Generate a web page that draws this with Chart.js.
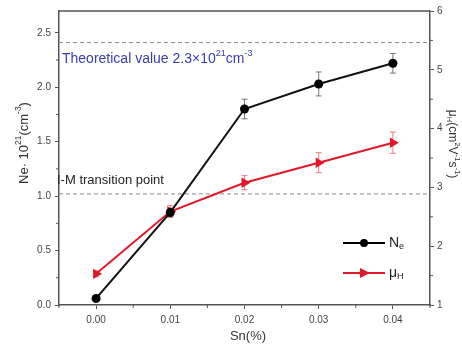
<!DOCTYPE html>
<html>
<head>
<meta charset="utf-8">
<title>Ne and mobility vs Sn</title>
<script src="https://cdn.jsdelivr.net/npm/chart.js@4.4.1/dist/chart.umd.min.js"></script>
<style>
  html, body { margin: 0; padding: 0; background: #fff; }
  #wrap { width: 462px; height: 347px; }
</style>
</head>
<body>
<div id="wrap"><canvas id="chart" width="462" height="347"></canvas></div>
<script>
// Data
const sn = [0.00, 0.01, 0.02, 0.03, 0.04];
const ne = [0.06, 0.85, 1.80, 2.03, 2.22];
const neErr = [0.02, 0.04, 0.09, 0.11, 0.09];
const mu = [1.53, 2.59, 3.08, 3.42, 3.76];
const muErr = [0.05, 0.10, 0.12, 0.17, 0.18];
const xTicks = [0.00, 0.01, 0.02, 0.03, 0.04];
const yTicks = [0.0, 0.5, 1.0, 1.5, 2.0, 2.5];
const y1Ticks = [1, 2, 3, 4, 5, 6];
const refLines = [2.41, 1.02]; // dashed lines, left axis units

const FONT = '"Liberation Sans", Arial, sans-serif';
const AXIS = '#555';
const RED = '#e0182a';

// draws text with sup and sub segments: parts = [[text, 'n'|'sup'|'sub'], ...]
function richText(ctx, parts, x, y, size) {
  let cx = x;
  parts.forEach(([t, kind]) => {
    const s = kind === 'n' ? size : size * 0.65;
    const dy = kind === 'sup' ? -size * 0.4 : kind === 'sub' ? size * 0.25 : 0;
    ctx.font = s + 'px ' + FONT;
    ctx.fillText(t, cx, y + dy);
    cx += ctx.measureText(t).width;
  });
  return cx - x;
}
function richWidth(ctx, parts, size) {
  let w = 0;
  parts.forEach(([t, kind]) => {
    ctx.font = (kind === 'n' ? size : size * 0.65) + 'px ' + FONT;
    w += ctx.measureText(t).width;
  });
  return w;
}

const extras = {
  id: 'extras',
  beforeDatasetsDraw(chart) {
    const { ctx, chartArea: a, scales } = chart;
    ctx.save();
    // dashed reference lines
    ctx.strokeStyle = '#8a8a8a';
    ctx.lineWidth = 1;
    ctx.setLineDash([4, 3]);
    refLines.forEach(v => {
      const y = scales.y.getPixelForValue(v);
      ctx.beginPath();
      ctx.moveTo(a.left, y);
      ctx.lineTo(a.right, y);
      ctx.stroke();
    });
    ctx.setLineDash([]);

    // error bars
    const bars = (vals, errs, sc, color) => {
      ctx.strokeStyle = color;
      ctx.lineWidth = 1;
      vals.forEach((v, i) => {
        const x = scales.x.getPixelForValue(sn[i]);
        const y0 = sc.getPixelForValue(v - errs[i]);
        const y1 = sc.getPixelForValue(v + errs[i]);
        ctx.beginPath();
        ctx.moveTo(x, y0); ctx.lineTo(x, y1);
        ctx.moveTo(x - 3, y0); ctx.lineTo(x + 3, y0);
        ctx.moveTo(x - 3, y1); ctx.lineTo(x + 3, y1);
        ctx.stroke();
      });
    };
    bars(ne, neErr, scales.y, '#777');
    bars(mu, muErr, scales.y1, '#e87a80');
    ctx.restore();
  },
  afterDraw(chart) {
    const { ctx, chartArea: a, scales } = chart;
    ctx.save();
    // frame top
    ctx.strokeStyle = AXIS;
    ctx.lineWidth = 1.5;
    ctx.beginPath();
    ctx.moveTo(a.left, a.top);
    ctx.lineTo(a.right, a.top);
    ctx.stroke();

    // minor ticks
    ctx.lineWidth = 1;
    ctx.beginPath();
    yTicks.forEach(t => {
      const v = t + 0.25;
      if (v > scales.y.max) return;
      const y = scales.y.getPixelForValue(v);
      ctx.moveTo(a.left, y); ctx.lineTo(a.left - 3, y);
    });
    y1Ticks.forEach(t => {
      const v = t + 0.5;
      if (v > scales.y1.max) return;
      const y = scales.y1.getPixelForValue(v);
      ctx.moveTo(a.right, y); ctx.lineTo(a.right + 3, y);
    });
    xTicks.forEach((t, i) => {
      [-0.005, 0.005].forEach(d => {
        if (i > 0 && d < 0) return;
        const x = scales.x.getPixelForValue(t + d);
        ctx.moveTo(x, a.bottom); ctx.lineTo(x, a.bottom + 3);
      });
    });
    ctx.stroke();

    // annotations
    ctx.textBaseline = 'middle';
    ctx.textAlign = 'left';
    ctx.fillStyle = '#3b3cb0';
    richText(ctx, [['Theoretical value 2.3×10', 'n'], ['21', 'sup'], ['cm', 'n'], ['-3', 'sup']], a.left + 3, 59, 14);
    ctx.fillStyle = '#222';
    richText(ctx, [['I-M transition point', 'n']], a.left - 2, 180, 13);

    // legend
    const lx0 = 343, lx1 = 385;
    const ly = [243, 273];
    ctx.lineWidth = 2;
    ctx.strokeStyle = '#000';
    ctx.beginPath(); ctx.moveTo(lx0, ly[0]); ctx.lineTo(lx1, ly[0]); ctx.stroke();
    ctx.fillStyle = '#000';
    ctx.beginPath(); ctx.arc((lx0 + lx1) / 2, ly[0], 4, 0, Math.PI * 2); ctx.fill();
    ctx.strokeStyle = RED;
    ctx.beginPath(); ctx.moveTo(lx0, ly[1]); ctx.lineTo(lx1, ly[1]); ctx.stroke();
    ctx.fillStyle = RED;
    const tx = (lx0 + lx1) / 2;
    ctx.beginPath(); ctx.moveTo(tx + 6, ly[1]); ctx.lineTo(tx - 4, ly[1] - 5); ctx.lineTo(tx - 4, ly[1] + 5); ctx.closePath(); ctx.fill();
    ctx.fillStyle = '#222';
    richText(ctx, [['N', 'n'], ['e', 'sub']], lx1 + 4, ly[0], 14);
    richText(ctx, [['μ', 'n'], ['H', 'sub']], lx1 + 4, ly[1], 14);

    // axis titles
    ctx.fillStyle = '#333';
    ctx.textAlign = 'left';
    richText(ctx, [['Sn(%)', 'n']], 248 - richWidth(ctx, [['Sn(%)', 'n']], 13) / 2, 336, 13);

    const leftT = [['Ne· 10', 'n'], ['21', 'sup'], ['(cm', 'n'], ['-3', 'sup'], [')', 'n']];
    ctx.save();
    ctx.translate(24, 143);
    ctx.rotate(-Math.PI / 2);
    richText(ctx, leftT, -richWidth(ctx, leftT, 13) / 2, 0, 13);
    ctx.restore();

    const rightT = [['μ', 'n'], ['H', 'sub'], ['(cm', 'n'], ['2', 'sup'], ['V', 'n'], ['-1', 'sup'], ['s', 'n'], ['-1', 'sup'], [')', 'n']];
    ctx.save();
    ctx.translate(452, 144);
    ctx.rotate(Math.PI / 2);
    richText(ctx, rightT, -richWidth(ctx, rightT, 12) / 2, 0, 12);
    ctx.restore();
    ctx.restore();
  }
};

const tickFont = { family: FONT, size: 10 };
const axisGrid = { drawOnChartArea: false, drawTicks: true, tickLength: 4, color: AXIS, lineWidth: 1 };
const axisBorder = { display: true, color: AXIS, width: 1.5 };

new Chart(document.getElementById('chart'), {
  type: 'line',
  data: {
    datasets: [
      {
        label: 'Ne',
        data: sn.map((x, i) => ({ x, y: ne[i] })),
        yAxisID: 'y',
        borderColor: '#111',
        backgroundColor: '#000',
        borderWidth: 2,
        pointStyle: 'circle',
        pointRadius: 4.5,
        pointBorderWidth: 0,
        tension: 0
      },
      {
        label: 'μH',
        data: sn.map((x, i) => ({ x, y: mu[i] })),
        yAxisID: 'y1',
        borderColor: RED,
        backgroundColor: RED,
        borderWidth: 2,
        pointStyle: 'triangle',
        rotation: 90,
        pointRadius: 6,
        pointBorderWidth: 0,
        tension: 0
      }
    ]
  },
  options: {
    responsive: false,
    animation: false,
    layout: { padding: { top: 11, left: 0, right: 0, bottom: 0 } },
    plugins: { legend: { display: false }, tooltip: { enabled: false } },
    scales: {
      x: {
        type: 'linear',
        min: -0.005,
        max: 0.045,
        afterBuildTicks: s => { s.ticks = xTicks.map(v => ({ value: v })); },
        afterFit: s => { s.height = 42; },
        ticks: { font: tickFont, color: '#444', padding: 5, callback: v => v.toFixed(2) },
        grid: axisGrid,
        border: axisBorder
      },
      y: {
        type: 'linear',
        position: 'left',
        min: 0,
        max: 2.7,
        afterBuildTicks: s => { s.ticks = yTicks.map(v => ({ value: v })); },
        afterFit: s => { s.width = 59; },
        ticks: { font: tickFont, color: '#444', padding: 4, callback: v => v.toFixed(1) },
        grid: axisGrid,
        border: axisBorder
      },
      y1: {
        type: 'linear',
        position: 'right',
        min: 1,
        max: 6,
        afterBuildTicks: s => { s.ticks = y1Ticks.map(v => ({ value: v })); },
        afterFit: s => { s.width = 32; },
        ticks: { font: tickFont, color: '#444', padding: 3, callback: v => String(v) },
        grid: axisGrid,
        border: axisBorder
      }
    }
  },
  plugins: [extras]
});
</script>
</body>
</html>
